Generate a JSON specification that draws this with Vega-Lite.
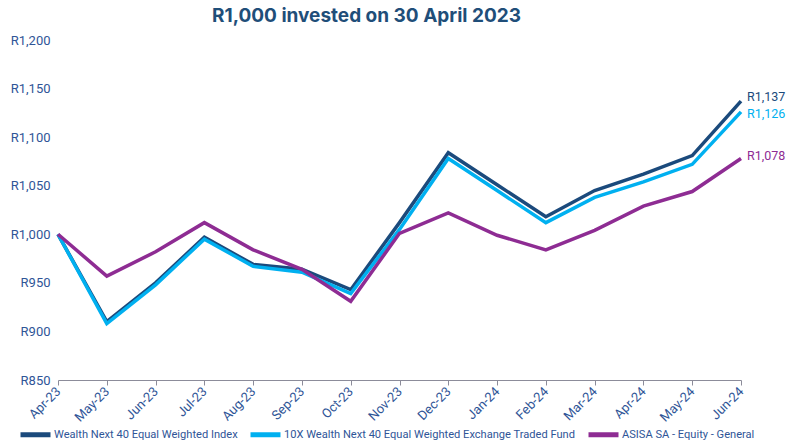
{
  "$schema": "https://vega.github.io/schema/vega-lite/v6.json",
  "width": 683,
  "height": 340,
  "autosize": {"type": "none"},
  "padding": {"left": 58, "top": 40, "right": 47, "bottom": 62},
  "background": "white",
  "config": {
    "view": {"stroke": null},
    "font": "Roboto"
  },
  "title": {
    "text": "R1,000 invested on 30 April 2023",
    "font": "Inter",
    "fontSize": 19,
    "fontWeight": "bold",
    "color": "#1F4E79",
    "anchor": "middle",
    "dx": -33,
    "offset": 8
  },
  "datasets": {
    "series": [
      {"month": "Apr-23", "series": "Wealth Next 40 Equal Weighted Index", "value": 1000},
      {"month": "May-23", "series": "Wealth Next 40 Equal Weighted Index", "value": 910},
      {"month": "Jun-23", "series": "Wealth Next 40 Equal Weighted Index", "value": 950},
      {"month": "Jul-23", "series": "Wealth Next 40 Equal Weighted Index", "value": 997},
      {"month": "Aug-23", "series": "Wealth Next 40 Equal Weighted Index", "value": 969},
      {"month": "Sep-23", "series": "Wealth Next 40 Equal Weighted Index", "value": 964},
      {"month": "Oct-23", "series": "Wealth Next 40 Equal Weighted Index", "value": 943},
      {"month": "Nov-23", "series": "Wealth Next 40 Equal Weighted Index", "value": 1012},
      {"month": "Dec-23", "series": "Wealth Next 40 Equal Weighted Index", "value": 1084},
      {"month": "Jan-24", "series": "Wealth Next 40 Equal Weighted Index", "value": 1051},
      {"month": "Feb-24", "series": "Wealth Next 40 Equal Weighted Index", "value": 1018},
      {"month": "Mar-24", "series": "Wealth Next 40 Equal Weighted Index", "value": 1045},
      {"month": "Apr-24", "series": "Wealth Next 40 Equal Weighted Index", "value": 1062},
      {"month": "May-24", "series": "Wealth Next 40 Equal Weighted Index", "value": 1081},
      {"month": "Jun-24", "series": "Wealth Next 40 Equal Weighted Index", "value": 1137},
      {"month": "Apr-23", "series": "10X Wealth Next 40 Equal Weighted Exchange Traded Fund", "value": 1000},
      {"month": "May-23", "series": "10X Wealth Next 40 Equal Weighted Exchange Traded Fund", "value": 908},
      {"month": "Jun-23", "series": "10X Wealth Next 40 Equal Weighted Exchange Traded Fund", "value": 948},
      {"month": "Jul-23", "series": "10X Wealth Next 40 Equal Weighted Exchange Traded Fund", "value": 995},
      {"month": "Aug-23", "series": "10X Wealth Next 40 Equal Weighted Exchange Traded Fund", "value": 967},
      {"month": "Sep-23", "series": "10X Wealth Next 40 Equal Weighted Exchange Traded Fund", "value": 961},
      {"month": "Oct-23", "series": "10X Wealth Next 40 Equal Weighted Exchange Traded Fund", "value": 939},
      {"month": "Nov-23", "series": "10X Wealth Next 40 Equal Weighted Exchange Traded Fund", "value": 1005},
      {"month": "Dec-23", "series": "10X Wealth Next 40 Equal Weighted Exchange Traded Fund", "value": 1078},
      {"month": "Jan-24", "series": "10X Wealth Next 40 Equal Weighted Exchange Traded Fund", "value": 1045},
      {"month": "Feb-24", "series": "10X Wealth Next 40 Equal Weighted Exchange Traded Fund", "value": 1012},
      {"month": "Mar-24", "series": "10X Wealth Next 40 Equal Weighted Exchange Traded Fund", "value": 1038},
      {"month": "Apr-24", "series": "10X Wealth Next 40 Equal Weighted Exchange Traded Fund", "value": 1054},
      {"month": "May-24", "series": "10X Wealth Next 40 Equal Weighted Exchange Traded Fund", "value": 1072},
      {"month": "Jun-24", "series": "10X Wealth Next 40 Equal Weighted Exchange Traded Fund", "value": 1126},
      {"month": "Apr-23", "series": "ASISA SA - Equity - General", "value": 1000},
      {"month": "May-23", "series": "ASISA SA - Equity - General", "value": 957},
      {"month": "Jun-23", "series": "ASISA SA - Equity - General", "value": 982},
      {"month": "Jul-23", "series": "ASISA SA - Equity - General", "value": 1012},
      {"month": "Aug-23", "series": "ASISA SA - Equity - General", "value": 984},
      {"month": "Sep-23", "series": "ASISA SA - Equity - General", "value": 964},
      {"month": "Oct-23", "series": "ASISA SA - Equity - General", "value": 931},
      {"month": "Nov-23", "series": "ASISA SA - Equity - General", "value": 1001},
      {"month": "Dec-23", "series": "ASISA SA - Equity - General", "value": 1022},
      {"month": "Jan-24", "series": "ASISA SA - Equity - General", "value": 999},
      {"month": "Feb-24", "series": "ASISA SA - Equity - General", "value": 984},
      {"month": "Mar-24", "series": "ASISA SA - Equity - General", "value": 1004},
      {"month": "Apr-24", "series": "ASISA SA - Equity - General", "value": 1029},
      {"month": "May-24", "series": "ASISA SA - Equity - General", "value": 1044},
      {"month": "Jun-24", "series": "ASISA SA - Equity - General", "value": 1078}
    ]
  },
  "data": {"name": "series"},
  "encoding": {
    "x": {
      "field": "month",
      "type": "ordinal",
      "sort": null,
      "scale": {"type": "point", "padding": 0},
      "axis": {
        "title": null,
        "labelAngle": -45,
        "labelAlign": "right",
        "labelBaseline": "middle",
        "labelFont": "Roboto",
        "labelFontSize": 13,
        "labelColor": "#2F5597",
        "labelPadding": 4,
        "domainColor": "#8C8C9A",
        "tickColor": "#8C8C9A",
        "tickSize": 5,
        "grid": false
      }
    },
    "y": {
      "field": "value",
      "type": "quantitative",
      "scale": {"domain": [850, 1200], "zero": false, "nice": false},
      "axis": {
        "title": null,
        "values": [850, 900, 950, 1000, 1050, 1100, 1150, 1200],
        "labelExpr": "'R' + format(datum.value, ',')",
        "labelFont": "Roboto",
        "labelFontSize": 13,
        "labelColor": "#2F5597",
        "domain": false,
        "ticks": false,
        "grid": false,
        "labelPadding": 8
      }
    },
    "color": {
      "field": "series",
      "type": "nominal",
      "sort": null,
      "scale": {
        "domain": ["Wealth Next 40 Equal Weighted Index", "10X Wealth Next 40 Equal Weighted Exchange Traded Fund", "ASISA SA - Equity - General"],
        "range": ["#1B4A7C", "#00B0F0", "#8E2C93"]
      },
      "legend": {
        "title": null,
        "orient": "none",
        "legendX": -40,
        "legendY": 377,
        "direction": "horizontal",
        "symbolType": "stroke",
        "symbolStrokeWidth": 5,
        "symbolSize": 900,
        "labelFont": "Roboto",
        "labelFontSize": 11.1,
        "labelColor": "#2F5597",
        "columnPadding": 2,
        "labelOffset": 1,
        "labelLimit": 400
      }
    }
  },
  "layer": [
    {
      "mark": {"type": "line", "strokeWidth": 3.5, "strokeJoin": "miter", "strokeCap": "butt"}
    },
    {
      "transform": [
        {"filter": "datum.month == 'Jun-24' && datum.series == 'Wealth Next 40 Equal Weighted Index'"},
        {"calculate": "'R' + format(datum.value, ',')", "as": "label"}
      ],
      "mark": {"type": "text", "align": "left", "baseline": "middle", "dx": 6, "dy": -4, "font": "Roboto", "fontSize": 12.5},
      "encoding": {
        "text": {"field": "label", "type": "nominal"},
        "color": {"field": "series", "type": "nominal", "legend": null}
      }
    },
    {
      "transform": [
        {"filter": "datum.month == 'Jun-24' && datum.series == '10X Wealth Next 40 Equal Weighted Exchange Traded Fund'"},
        {"calculate": "'R' + format(datum.value, ',')", "as": "label"}
      ],
      "mark": {"type": "text", "align": "left", "baseline": "middle", "dx": 6, "dy": 2, "font": "Roboto", "fontSize": 12.5},
      "encoding": {
        "text": {"field": "label", "type": "nominal"},
        "color": {"field": "series", "type": "nominal", "legend": null}
      }
    },
    {
      "transform": [
        {"filter": "datum.month == 'Jun-24' && datum.series == 'ASISA SA - Equity - General'"},
        {"calculate": "'R' + format(datum.value, ',')", "as": "label"}
      ],
      "mark": {"type": "text", "align": "left", "baseline": "middle", "dx": 6, "dy": -3, "font": "Roboto", "fontSize": 12.5},
      "encoding": {
        "text": {"field": "label", "type": "nominal"},
        "color": {"field": "series", "type": "nominal", "legend": null}
      }
    }
  ]
}
